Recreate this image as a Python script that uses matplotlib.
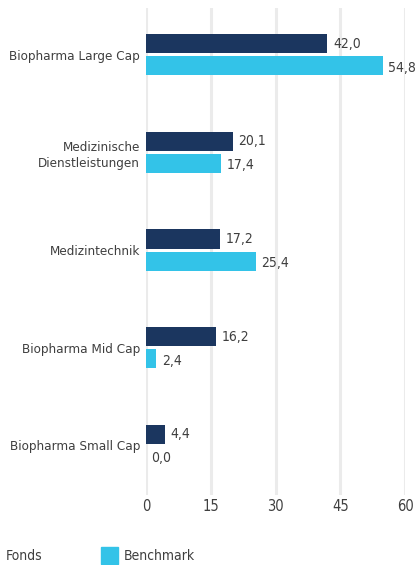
import matplotlib
matplotlib.use("Agg")
import matplotlib.pyplot as plt
import numpy as np

plt.rcParams['font.family'] = ['DejaVu Sans']
plt.rcParams['font.stretch'] = 'condensed'

categories = ["Biopharma Large Cap", "Medizinische\nDienstleistungen", "Medizintechnik",
              "Biopharma Mid Cap", "Biopharma Small Cap"]
fonds = [42.0, 20.1, 17.2, 16.2, 4.4]
benchmark = [54.8, 17.4, 25.4, 2.4, 0.0]
xticks = [0, 15, 30, 45, 60]

text_color = "#3f3f3f"
dark = "#1b365f"
light = "#33c3e8"
fs = 9.6

fig = plt.figure(figsize=(4.16, 5.65), dpi=100)
ax = fig.add_axes([146/416, 1-495/565, (405-146)/416, 487/565])
y = np.arange(len(categories))
off = 0.113
h = 0.195
ax.barh(y - off, fonds, height=h, color=dark, zorder=3)
ax.barh(y + off, benchmark, height=h, color=light, zorder=3)
for yi, v in zip(y, fonds):
    ax.text(v + 1.3, yi - off, f"{v:.1f}".replace(".", ","), va="center", ha="left",
            fontsize=10, color=text_color, clip_on=False)
for yi, v in zip(y, benchmark):
    ax.text(v + 1.3, yi + off + 0.02, f"{v:.1f}".replace(".", ","), va="center", ha="left",
            fontsize=10, color=text_color, clip_on=False)

ax.set_xlim(0, 60)
ax.set_ylim(4.51, -0.48)
ax.set_xticks(xticks)
ax.set_xticklabels([str(t) for t in xticks], fontsize=10.5, color=text_color)
ax.set_yticks(y)
ax.set_yticklabels(categories, fontsize=fs, color=text_color, linespacing=1.35)
ax.tick_params(axis="both", length=0)
ax.tick_params(axis="x", pad=3)
ax.tick_params(axis="y", pad=4.3)
ax.grid(axis="x", color="#ebebeb", linewidth=2.2, zorder=0)
for s in ax.spines.values():
    s.set_visible(False)

# legend
fig.text(6/416, 1-556/565, "Fonds", fontsize=10, color=text_color, va="center", ha="left")
fig.patches.append(plt.Rectangle((101/416, 1-564/565), 17/416, 17/565, transform=fig.transFigure,
                                 color=light, figure=fig))
fig.text(124/416, 1-556/565, "Benchmark", fontsize=10, color=text_color, va="center", ha="left")

fig.savefig("out.png")
